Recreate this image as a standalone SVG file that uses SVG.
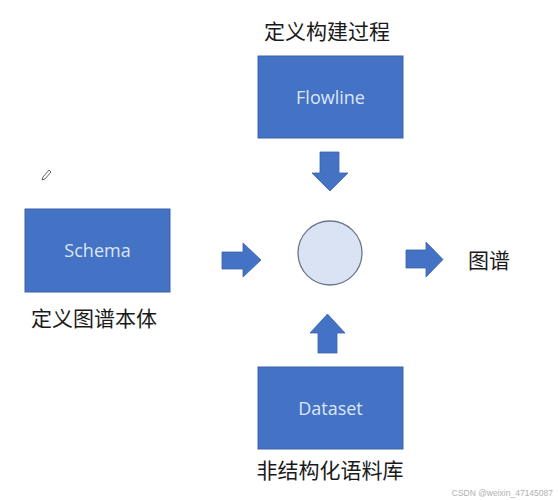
<svg xmlns="http://www.w3.org/2000/svg" width="558" height="500" viewBox="0 0 558 500">
<style>
.box{fill:#4472c4;stroke:#3a62aa;stroke-width:1}
.bt{font-family:"Open Sans","Noto Sans",sans-serif;font-size:18px;fill:#dce6f6;text-anchor:middle}
.lbl{font-family:"Noto Sans CJK SC",sans-serif;font-size:21px;fill:#1a1a1a}
.arr{fill:#4472c4;stroke:#3a62aa;stroke-width:0.8}
</style>
<rect width="558" height="500" fill="#ffffff"/>
<g id="flowline">
<rect class="box" x="258" y="56" width="145" height="82"/>
<text class="bt" x="330.5" y="104">Flowline</text>
<text class="lbl" x="327" y="39" text-anchor="middle">定义构建过程</text>
</g>
<g id="schema">
<rect class="box" x="25" y="209" width="145" height="83"/>
<text class="bt" x="97.5" y="257">Schema</text>
<text class="lbl" x="94" y="326" text-anchor="middle">定义图谱本体</text>
</g>
<g id="dataset">
<rect class="box" x="258" y="367" width="145" height="82"/>
<text class="bt" x="330.5" y="415">Dataset</text>
<text class="lbl" x="330" y="478" text-anchor="middle">非结构化语料库</text>
</g>
<g id="center">
<circle cx="330" cy="253" r="32" fill="#dae3f3" stroke="#6b7788" stroke-width="1.3"/>
</g>
<g id="graph">
<text class="lbl" x="468" y="268">图谱</text>
</g>
<g id="connectors">
<polygon class="arr" points="320,152 339,152 339,173 348,173 330,191 312,173 320,173"/>
<polygon class="arr" points="222,252 243,252 243,243 261,260 243,277 243,269 222,269"/>
<polygon class="arr" points="406,250 426,250 426,242 443,259.5 426,277 426,268 406,268"/>
<polygon class="arr" points="318,353 337,353 337,333 345,333 327.5,314 310,333 318,333"/>
</g>
<g id="pencil">
<path d="M43,177 L49,170 L51,172 L45,179 L42,180 Z" fill="none" stroke="#555" stroke-width="0.9"/>
</g>
<text x="553" y="496" font-family="Liberation Sans,sans-serif" font-size="8.5" fill="#b0b0b0" text-anchor="end">CSDN @weixin_47145087</text>
</svg>
